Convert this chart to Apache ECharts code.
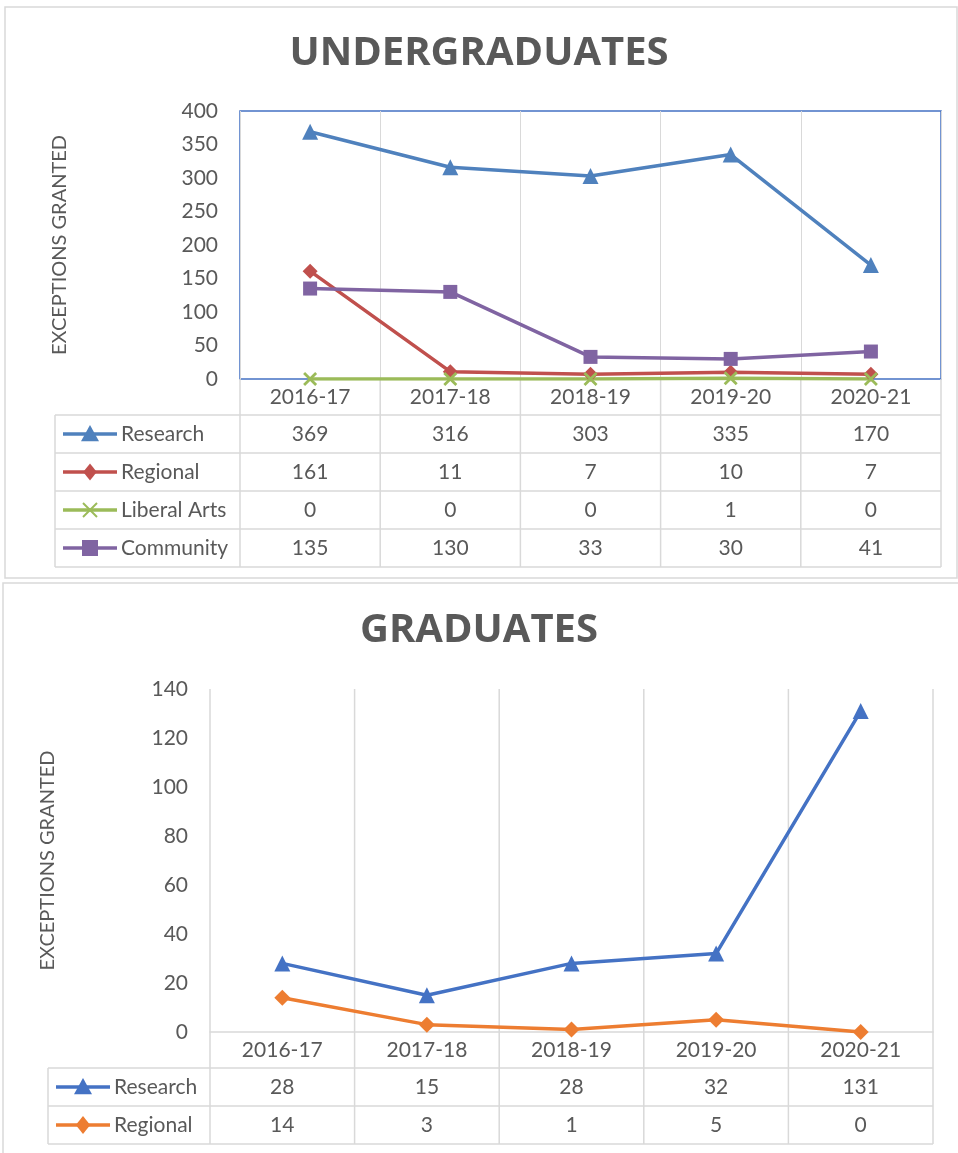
<!DOCTYPE html>
<html>
<head>
<meta charset="utf-8">
<script src="https://cdn.jsdelivr.net/npm/echarts@6/dist/echarts.min.js"></script>
<style>
  html, body { margin: 0; padding: 0; background: #fff; }
  #chart { width: 958px; height: 1153px; }
</style>
</head>
<body>
<div id="chart"></div>
<script>
// data
const categories = ['2016-17', '2017-18', '2018-19', '2019-20', '2020-21'];

const ugResearch = [369, 316, 303, 335, 170];
const ugRegional = [161, 11, 7, 10, 7];
const ugLiberalArts = [0, 0, 0, 1, 0];
const ugCommunity = [135, 130, 33, 30, 41];

const gResearch = [28, 15, 28, 32, 131];
const gRegional = [14, 3, 1, 5, 0];

const ugTicks = [0, 50, 100, 150, 200, 250, 300, 350, 400];
const gTicks = [0, 20, 40, 60, 80, 100, 120, 140];

// layout
const G1 = { left: 240, top: 111, width: 701, height: 268 };
const G2 = { left: 210, top: 689, width: 723, height: 343 };
const headerH = 36, rowH = 38;
const gray = '#d9d9d9', txt = '#595959';
const font = 'Lato';
const fs = 21;
const xPath = 'path://M0,1.4L1.4,0L5,3.6L8.6,0L10,1.4L6.4,5L10,8.6L8.6,10L5,6.4L1.4,10L0,8.6L3.6,5Z';

const ugRows = [
  { name: 'Research', data: ugResearch, color: '#4F81BD', symbol: 'triangle', size: 16 },
  { name: 'Regional', data: ugRegional, color: '#C0504D', symbol: 'diamond', size: 15 },
  { name: 'Liberal Arts', data: ugLiberalArts, color: '#9BBB59', symbol: xPath, size: 14 },
  { name: 'Community', data: ugCommunity, color: '#8064A2', symbol: 'rect', size: 14 }
];
const gRows = [
  { name: 'Research', data: gResearch, color: '#4472C4', symbol: 'triangle', size: 16 },
  { name: 'Regional', data: gRegional, color: '#ED7D31', symbol: 'diamond', size: 16 }
];

function yAxisFor(idx, ticks, nameGap) {
  return {
    type: 'value', gridIndex: idx,
    min: ticks[0], max: ticks[ticks.length - 1], interval: ticks[1] - ticks[0],
    name: 'EXCEPTIONS GRANTED', nameLocation: 'middle', nameGap: nameGap,
    nameTextStyle: { fontFamily: font, fontSize: 20, color: txt },
    axisLine: { show: false }, axisTick: { show: false }, splitLine: { show: false },
    axisLabel: { fontFamily: font, fontSize: fs, color: txt, margin: 22 }
  };
}
function xAxisFor(idx) {
  return {
    type: 'category', gridIndex: idx, data: categories, boundaryGap: true,
    axisTick: { show: false },
    axisLine: { show: idx === 1, lineStyle: { color: gray, width: 1.5 } },
    splitLine: { show: idx === 1 ? false : true, lineStyle: { color: gray, width: 1 } },
    axisLabel: { fontFamily: font, fontSize: fs, color: txt, margin: 8 }
  };
}
function seriesFor(rows, idx) {
  return rows.map(r => ({
    name: r.name + idx, type: 'line', xAxisIndex: idx, yAxisIndex: idx,
    data: r.data, symbol: r.symbol, symbolSize: r.size, showAllSymbol: true,
    lineStyle: { color: r.color, width: 3.5 },
    itemStyle: { color: r.color },
    animation: false
  }));
}

const chart = echarts.init(document.getElementById('chart'));
chart.setOption({
  backgroundColor: '#fff',
  animation: false,
  title: [
    { text: 'UNDERGRADUATES', left: 'center', top: 29,
      textStyle: { fontFamily: 'Open Sans', fontWeight: 'bold', fontSize: 40, color: txt } },
    { text: 'GRADUATES', left: 'center', top: 606,
      textStyle: { fontFamily: 'Open Sans', fontWeight: 'bold', fontSize: 40, color: txt } }
  ],
  grid: [
    Object.assign({ show: true, borderColor: '#4472C4', borderWidth: 1.5, backgroundColor: 'transparent' }, G1),
    Object.assign({}, G2)
  ],
  xAxis: [xAxisFor(0), xAxisFor(1)],
  yAxis: [yAxisFor(0, ugTicks, 170), yAxisFor(1, gTicks, 152)],
  series: seriesFor(ugRows, 0).concat(seriesFor(gRows, 1))
});

// frames, data tables and legend keys
function line(x1, y1, x2, y2, color, w) {
  return { type: 'line', silent: true, shape: { x1, y1, x2, y2 }, style: { stroke: color, lineWidth: w || 1 } };
}
function marker(r, cx, cy) {
  const s = r.size / 2 + 1;
  const st = { fill: r.color };
  if (r.symbol === 'triangle') return { type: 'polygon', shape: { points: [[cx, cy - s], [cx + s, cy + s * 0.8], [cx - s, cy + s * 0.8]] }, style: st };
  if (r.symbol === 'diamond') return { type: 'polygon', shape: { points: [[cx, cy - s], [cx + s * 0.8, cy], [cx, cy + s], [cx - s * 0.8, cy]] }, style: st };
  if (r.symbol === 'rect') return { type: 'rect', shape: { x: cx - s, y: cy - s, width: 2 * s, height: 2 * s }, style: st };
  return { type: 'group', children: [
    line(cx - s + 1, cy - s + 1, cx + s - 1, cy + s - 1, r.color, 2),
    line(cx - s + 1, cy + s - 1, cx + s - 1, cy - s + 1, r.color, 2)
  ] };
}
function tableFor(idx, G, rows, legendLeft) {
  const els = [];
  const bottom = G.top + G.height;
  const tTop = bottom + headerH;
  const tBottom = tTop + rowH * rows.length;
  const right = G.left + G.width;
  const n = categories.length;
  for (let i = 0; i <= n; i++) {
    const x = G.left + G.width * i / n;
    els.push(line(x, idx === 1 ? G.top : bottom, x, tBottom, gray, 1.5));
  }
  els.push(line(legendLeft, tTop, legendLeft, tBottom, gray, 1.5));
  for (let r = 0; r <= rows.length; r++) {
    const y = tTop + rowH * r;
    els.push(line(legendLeft, y, right, y, gray, 1.5));
  }
  rows.forEach((row, r) => {
    const cy = tTop + rowH * (r + 0.5);
    els.push(line(legendLeft + 8, cy, legendLeft + 62, cy, row.color, 3.5));
    els.push(marker(row, legendLeft + 35, cy));
    els.push({ type: 'text', silent: true, style: { text: row.name, x: legendLeft + 66, y: cy, align: 'left', verticalAlign: 'middle', fontFamily: font, fontSize: fs, fill: txt } });
    row.data.forEach((v, i) => {
      const cx = chart.convertToPixel({ xAxisIndex: idx }, categories[i]);
      els.push({ type: 'text', silent: true, style: { text: String(v), x: cx, y: cy, align: 'center', verticalAlign: 'middle', fontFamily: font, fontSize: fs, fill: txt } });
    });
  });
  return els;
}

const graphic = [
  { type: 'rect', silent: true, z: -10, shape: { x: 5, y: 7, width: 952, height: 571 }, style: { fill: 'none', stroke: gray, lineWidth: 1.5 } },
  { type: 'rect', silent: true, z: -10, shape: { x: 3, y: 583, width: 960, height: 580 }, style: { fill: 'none', stroke: gray, lineWidth: 1.5 } }
].concat(tableFor(0, G1, ugRows, 55), tableFor(1, G2, gRows, 48));

chart.setOption({ graphic: graphic });
window.onresize = () => { chart.resize(); };
</script>
</body>
</html>
